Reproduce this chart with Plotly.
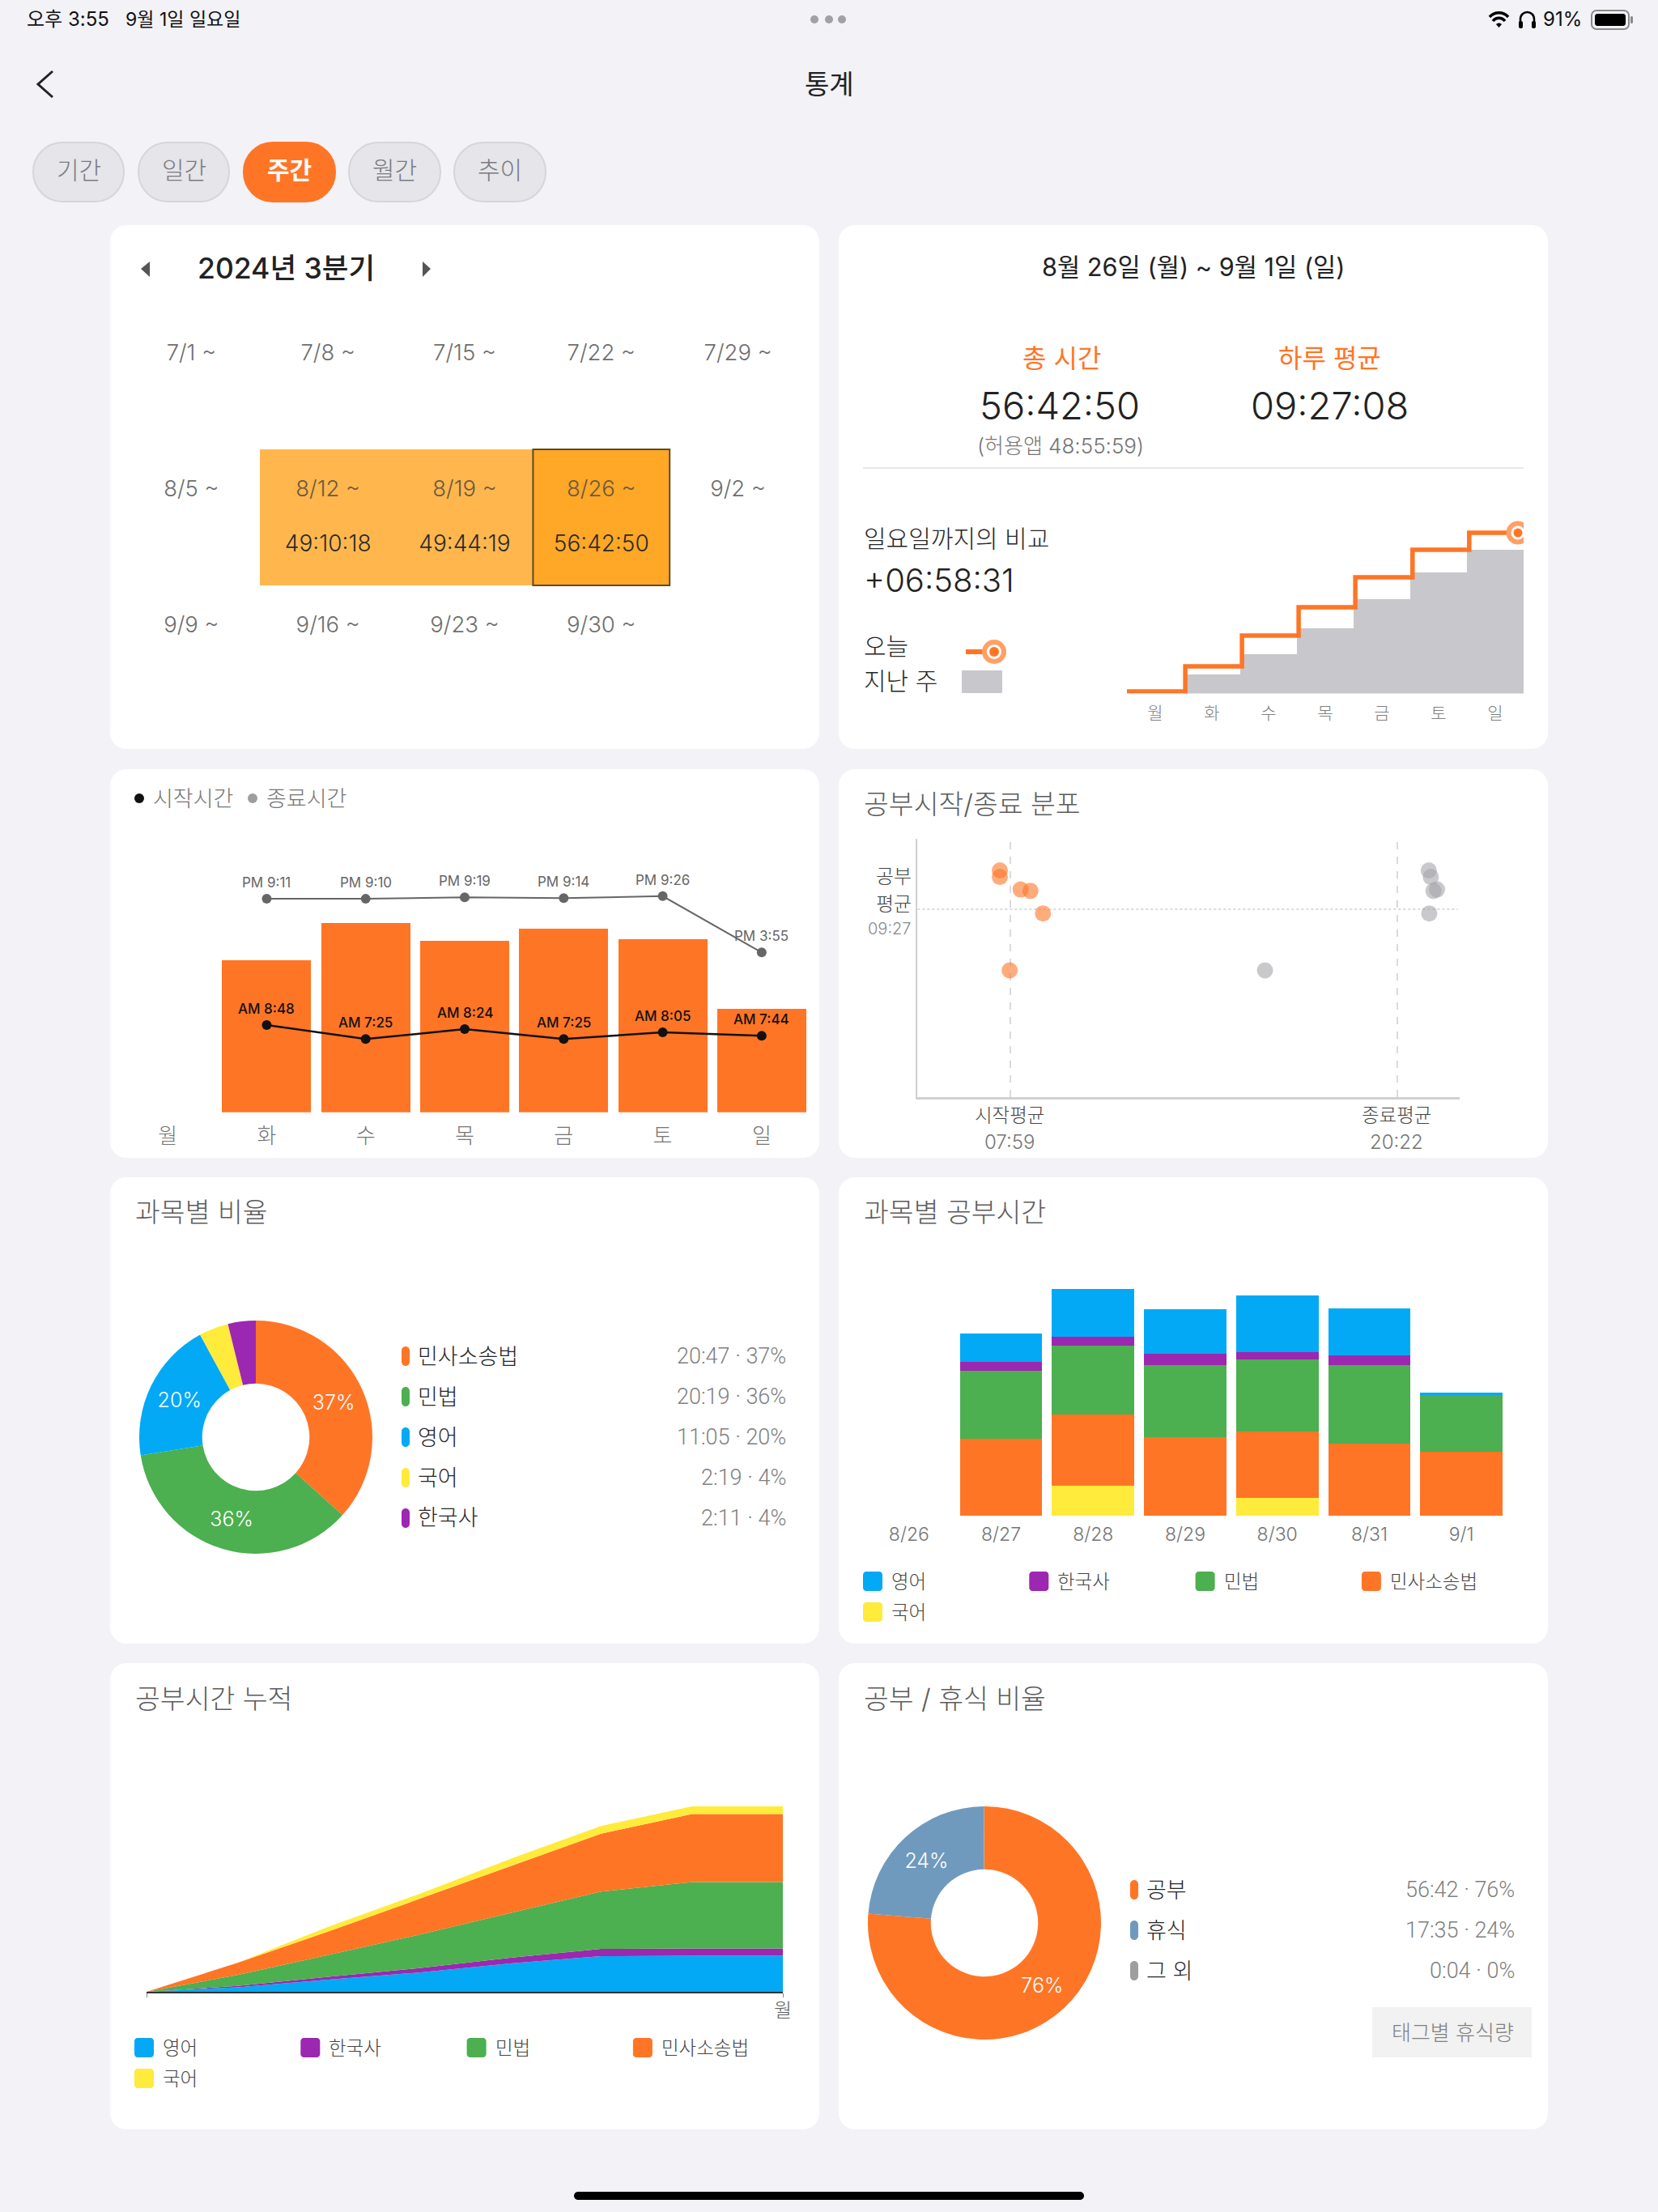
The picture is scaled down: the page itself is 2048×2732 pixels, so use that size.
import plotly.graph_objects as go

# ---------- data ----------
WEEK_LABELS = [["7/1 ~", "7/8 ~", "7/15 ~", "7/22 ~", "7/29 ~"],
               ["8/5 ~", "8/12 ~", "8/19 ~", "8/26 ~", "9/2 ~"],
               ["9/9 ~", "9/16 ~", "9/23 ~", "9/30 ~", ""]]
WEEK_HOURS = [[None, None, None, None, None],
              [None, 49.17, 49.74, 56.71, None],
              [None, None, None, None, None]]
WEEK_HOUR_TEXT = {(1, 1): "49:10:18", (1, 2): "49:44:19", (1, 3): "56:42:50"}

DAYS = ["월", "화", "수", "목", "금", "토", "일"]
THIS_WEEK = [0.7, 9.57, 20.4, 30.4, 41.0, 50.7, 56.7]
THIS_WEEK_EDGES = [-0.5, 0.53, 1.53, 2.53, 3.53, 4.54, 5.54]
TODAY_POS = 6.4
LAST_WEEK = [0, 6.7, 13.9, 23.0, 33.3, 42.7, 50.7]

STUDY_DAYS = ["화", "수", "목", "금", "토", "일"]
STUDY_HOURS = [0, 8.87, 11.03, 10.0, 10.7, 10.07, 6.01]
START_HOURS = [8.8, 7.417, 8.4, 7.417, 8.083, 7.733]
END_HOURS = [21.183, 21.167, 21.317, 21.233, 21.433, 15.917]
START_LABELS = ["AM 8:48", "AM 7:25", "AM 8:24", "AM 7:25", "AM 8:05", "AM 7:44"]
END_LABELS = ["PM 9:11", "PM 9:10", "PM 9:19", "PM 9:14", "PM 9:26", "PM 3:55"]
DURATIONS = [8.87, 11.03, 10.0, 10.7, 10.07, 6.01]
AVG_START_POS = 7.754
AVG_END_POS = 20.16
AVG_STUDY_POS = 9.08

SUBJECTS = ["민사소송법", "민법", "영어", "국어", "한국사"]
SUBJECT_MINUTES = [1247, 1219, 665, 139, 131]
SUBJECT_TEXT = ["37%", "36%", "20%", "", ""]
SUBJECT_VALUES = ["20:47 · 37%", "20:19 · 36%", "11:05 · 20%", "2:19 · 4%", "2:11 · 4%"]

DATES = ["8/26", "8/27", "8/28", "8/29", "8/30", "8/31", "9/1"]
KOREAN = [0, 0, 1.47, 0, 0.87, 0, 0]
CIVIL_PROC = [0, 3.73, 3.44, 3.81, 3.23, 3.51, 3.11]
CIVIL = [0, 3.33, 3.35, 3.53, 3.50, 3.81, 2.76]
HISTORY = [0, 0.40, 0.44, 0.52, 0.36, 0.49, 0]
ENGLISH = [0, 1.39, 2.34, 2.16, 2.76, 2.25, 0.13]

CUM_X = [0, 1, 2, 3, 4, 5, 6, 7]
CUM_ENGLISH = [0, 1.39, 3.73, 5.89, 8.65, 10.90, 11.03, 11.03]
CUM_HISTORY = [0, 0.40, 0.84, 1.36, 1.72, 2.21, 2.21, 2.21]
CUM_CIVIL = [0, 3.33, 6.68, 10.21, 13.71, 17.52, 20.28, 20.28]
CUM_PROC = [0, 3.73, 7.17, 10.98, 14.21, 17.72, 20.83, 20.83]
CUM_KOREAN = [0, 0, 1.47, 1.47, 2.34, 2.34, 2.34, 2.34]

REST_LABELS = ["공부", "휴식", "그 외"]
REST_MINUTES = [3402, 1055, 4]
REST_TEXT = ["76%", "24%", ""]
REST_VALUES = ["56:42 · 76%", "17:35 · 24%", "0:04 · 0%"]

# ---------- style ----------
W, H = 2048, 2732
FONT = "Inter, 'Noto Sans CJK KR', sans-serif"
VALUE_FONT = "Roboto, 'Noto Sans CJK KR', sans-serif"
LIGHT = 300
ORANGE, GREEN, BLUE, YELLOW, PURPLE = "#FF7526", "#4CAF50", "#03A9F4", "#FFEB3B", "#9C27B0"
SUBJECT_COLORS = [ORANGE, GREEN, BLUE, YELLOW, PURPLE]
REST_COLORS = [ORANGE, "#6F9ABD", "#9E9E9E"]
BG, GREYBAR = "#F2F2F7", "#C7C7CC"
TITLE_C, LABEL_C, MUTED_C = "#5C5C5C", "#262626", "#757575"

fx = lambda p: p / W
fy = lambda p: 1 - p / H
shapes, annos = [], []


def text(x, y, s, size, color=LABEL_C, anchor="left", weight=LIGHT, family=FONT):
    f = dict(size=size, color=color, family=family, weight=weight)
    annos.append(dict(x=fx(x), y=fy(y), xref="paper", yref="paper", text=s, showarrow=False,
                      xanchor=anchor, yanchor="middle", font=f, borderpad=0))


def P(cmds):
    out = []
    for c in cmds:
        out.append(c[0] + " ".join(
            f"{fx(c[i]):.6f},{fy(c[i + 1]):.6f}" for i in range(1, len(c), 2)))
    return " ".join(out)


def path(cmds, fill=None, line=None, lw=0, closed=False, layer="below"):
    d = P(cmds) + (" Z" if closed else "")
    shapes.append(dict(type="path", xref="paper", yref="paper", path=d, layer=layer,
                       fillcolor=fill or "rgba(0,0,0,0)",
                       line=dict(color=line or "rgba(0,0,0,0)", width=lw)))


def rrect(x0, y0, x1, y1, r, fill, line=None, lw=0):
    k = r * 0.45
    path([("M", x0 + r, y0), ("L", x1 - r, y0),
          ("C", x1 - k, y0, x1, y0 + k, x1, y0 + r), ("L", x1, y1 - r),
          ("C", x1, y1 - k, x1 - k, y1, x1 - r, y1), ("L", x0 + r, y1),
          ("C", x0 + k, y1, x0, y1 - k, x0, y1 - r), ("L", x0, y0 + r),
          ("C", x0, y0 + k, x0 + k, y0, x0 + r, y0)], fill=fill, line=line, lw=lw, closed=True)


def circle(cx, cy, r, fill):
    shapes.append(dict(type="circle", xref="paper", yref="paper", layer="below",
                       x0=fx(cx - r), x1=fx(cx + r), y0=fy(cy + r), y1=fy(cy - r),
                       fillcolor=fill, line=dict(width=0)))


def xdom(a, b):
    return [fx(a), fx(b)]


def ydom(top, bottom):
    return [fy(bottom), fy(top)]


# ---------- chrome ----------
for (a, b) in [(136, 1012), (1036, 1912)]:
    for (t, u) in [(278, 925), (950, 1430), (1454, 2030), (2054, 2630)]:
        rrect(a, t, b, u, 20, "#FFFFFF")

text(32, 24, "오후 3:55", 24, "#111111", weight=400)
text(154, 24, "9월 1일 일요일", 23, "#111111", weight=400)
for cx in (1006, 1024, 1040):
    circle(cx, 24, 5, "#A0A0A5")
path([("M", 1840, 21), ("C", 1846, 14, 1857, 14, 1863, 21)], line="#000000", lw=3.5)
path([("M", 1844, 26), ("C", 1848, 21, 1855, 21, 1859, 26)], line="#000000", lw=3.5)
path([("M", 1848, 30), ("L", 1851.5, 34), ("L", 1855, 30), ("C", 1853, 28, 1850, 28, 1848, 30)],
     fill="#000000", closed=True)
path([("M", 1878, 33), ("L", 1878, 24), ("C", 1878, 12, 1895, 12, 1895, 24), ("L", 1895, 33)],
     line="#000000", lw=2.5)
rrect(1876, 26, 1881, 35, 2, "#000000")
rrect(1892, 26, 1897, 35, 2, "#000000")
text(1905, 24, "91%", 24, "#111111", weight=400)
rrect(1966, 13, 2012, 36, 6, "rgba(0,0,0,0)", "#8A8A8E", 2)
rrect(1970, 17, 2008, 32, 3, "#000000")
rrect(2014, 20, 2017, 29, 1.5, "#8A8A8E")

path([("M", 65, 88), ("L", 47, 104), ("L", 65, 120)], line="#222222", lw=3)
text(1024, 104, "통계", 33, "#222222", "center", 400)

for (a, b, s, on) in [(41, 153, "기간", 0), (171, 283, "일간", 0), (301, 414, "주간", 1),
                      (431, 544, "월간", 0), (561, 674, "추이", 0)]:
    rrect(a, 176, b, 249, 36, ORANGE if on else "#E5E5EA", ORANGE if on else "#D6D6DA", 2)
    text((a + b) / 2, 210, s, 30, "#FFFFFF" if on else "#7A7A80", "center", 700 if on else LIGHT)

# card 1
text(353, 331, "2024년 3분기", 35.5, "#222222", "center", 500)
path([("M", 185, 323), ("L", 174, 332), ("L", 185, 342)], fill="#555555", closed=True)
path([("M", 522, 323), ("L", 532, 332), ("L", 522, 342)], fill="#555555", closed=True)

# card 2
text(1474, 329, "8월 26일 (월) ~ 9월 1일 (일)", 30.7, "#222222", "center", 400)
text(1311, 442, "총 시간", 32, ORANGE, "center", 400)
text(1642, 442, "하루 평균", 32, ORANGE, "center", 400)
text(1309, 500, "56:42:50", 47, "#222222", "center")
text(1642, 500, "09:27:08", 47, "#222222", "center")
text(1310, 551, "(허용앱 48:55:59)", 26, MUTED_C, "center")
path([("M", 1066, 578), ("L", 1882, 578)], line="#E8E8EA", lw=2)
text(1066, 665, "일요일까지의 비교", 30, LABEL_C)
text(1066, 716, "+06:58:31", 40, "#222222")
text(1066, 798, "오늘", 30, LABEL_C)
text(1066, 841, "지난 주", 30, LABEL_C)
path([("M", 1193, 805), ("L", 1218, 805)], line=ORANGE, lw=6)
circle(1228, 805, 15, "#FFA066")
circle(1228, 805, 9, "#FFFFFF")
circle(1228, 805, 6, ORANGE)
shapes.append(dict(type="rect", xref="paper", yref="paper", layer="below", x0=fx(1188), x1=fx(1238),
                   y0=fy(856), y1=fy(828), fillcolor=GREYBAR, line=dict(width=0)))

# card 3
circle(172, 986, 6, "#111111")
text(188, 986, "시작시간", 27, MUTED_C)
circle(312, 986, 6, "#9E9E9E")
text(328, 986, "종료시간", 27, MUTED_C)

# card 4
text(1066, 993, "공부시작/종료 분포", 33.5, TITLE_C)
text(1127, 1082, "공부", 24, "#444444", "right")
text(1127, 1116, "평균", 24, "#444444", "right")
text(1127, 1147, "09:27", 20, "#8A8A8A", "right")
text(1247, 1377, "시작평균", 23.5, "#444444", "center")
text(1247, 1410, "07:59", 24, MUTED_C, "center")
text(1725, 1377, "종료평균", 23.5, "#444444", "center")
text(1725, 1410, "20:22", 24, MUTED_C, "center")

# card 5
text(166, 1497, "과목별 비율", 33.5, TITLE_C)
for i, (n, v, c) in enumerate(zip(SUBJECTS, SUBJECT_VALUES, SUBJECT_COLORS)):
    y = 1675 + 50 * i
    rrect(496, y - 12, 506, y + 12, 5, c)
    text(515, y, n, 27, LABEL_C)
    text(972, y, v, 27, "#808080", "right", family=VALUE_FONT)

# card 6 / 7 legends
text(1066, 1497, "과목별 공부시간", 33.5, TITLE_C)
text(166, 2098, "공부시간 누적", 33.5, TITLE_C)
LEG = [("영어", BLUE), ("한국사", PURPLE), ("민법", GREEN), ("민사소송법", ORANGE), ("국어", YELLOW)]
for (ox, y1, y2) in [(1066, 1953, 1991), (166, 2529, 2567)]:
    for i, (n, c) in enumerate(LEG):
        x = ox + 205.3 * (i % 4)
        y = y2 if i == 4 else y1
        rrect(x, y - 12, x + 24, y + 12, 4, c)
        text(x + 34, y, n, 23.5, "#444444")

# card 8
text(1066, 2098, "공부 / 휴식 비율", 33.5, TITLE_C)
for i, (n, v, c) in enumerate(zip(REST_LABELS, REST_VALUES, REST_COLORS)):
    y = 2334 + 50 * i
    rrect(1396, y - 12, 1406, y + 12, 5, c)
    text(1415, y, n, 27, LABEL_C)
    text(1872, y, v, 27, "#808080", "right", family=VALUE_FONT)
shapes.append(dict(type="rect", xref="paper", yref="paper", layer="below", x0=fx(1695), x1=fx(1892),
                   y0=fy(2541), y1=fy(2479), fillcolor="#F2F2F2", line=dict(width=0)))
text(1794, 2510, "태그별 휴식량", 26, "#808080", "center")

rrect(709, 2707, 1339, 2717, 5, "#000000")

# ---------- charts ----------
fig = go.Figure()
hidden = dict(visible=False, fixedrange=True, automargin=False)
axes = {}

# calendar
axes["xaxis"] = dict(hidden, domain=xdom(152, 996), range=[-0.5, 4.5], anchor="y")
axes["yaxis"] = dict(hidden, domain=ydom(387, 891), range=[2.5, -0.5], anchor="x")
fig.add_trace(go.Heatmap(z=WEEK_HOURS, x=[0, 1, 2, 3, 4], y=[0, 1, 2], zmin=49, zmax=57,
                         colorscale=[[0, "#FFB74D"], [0.5, "#FFB74D"], [0.5, "#FFA726"], [1, "#FFA726"]],
                         showscale=False, hoverinfo="skip", xaxis="x", yaxis="y"))
wx, wy, wt, wc, ws = [], [], [], [], []
for r, row in enumerate(WEEK_LABELS):
    for c, lab in enumerate(row):
        wx.append(c)
        wy.append(r - 0.195)
        wt.append(lab)
        wc.append("#6A5A40" if (r, c) in WEEK_HOUR_TEXT else "#6E6E6E")
        ws.append(27.5)
for (r, c), lab in WEEK_HOUR_TEXT.items():
    wx.append(c)
    wy.append(r + 0.21)
    wt.append(lab)
    wc.append("#2A2A2A")
    ws.append(28)
fig.add_trace(go.Scatter(x=wx, y=wy, text=wt, mode="text", textposition="middle center",
                         textfont=dict(size=ws, color=wc, family=FONT, weight=LIGHT), hoverinfo="skip",
                         xaxis="x", yaxis="y"))
shapes.append(dict(type="rect", xref="x", yref="y", x0=2.5, x1=3.5, y0=0.5, y1=1.5, layer="above",
                   line=dict(color="#5E4A24", width=2)))

# weekly comparison
axes["xaxis2"] = dict(domain=xdom(1392, 1882), range=[-0.5, 6.5], anchor="y2", tickvals=list(range(7)),
                      ticktext=DAYS, tickfont=dict(size=21, color="#808080", family=FONT, weight=LIGHT),
                      ticks="outside", ticklen=5, tickcolor="rgba(0,0,0,0)", showgrid=False, zeroline=False,
                      showline=False, fixedrange=True, tickangle=0, automargin=False)
axes["yaxis2"] = dict(hidden, domain=ydom(640, 856.5), range=[0, 61.86], anchor="x2")
fig.add_trace(go.Bar(x=list(range(7)), y=LAST_WEEK, width=1, marker=dict(color=GREYBAR, line=dict(width=0)),
                     hoverinfo="skip", xaxis="x2", yaxis="y2"))
fig.add_trace(go.Scatter(x=THIS_WEEK_EDGES + [TODAY_POS], y=THIS_WEEK + [THIS_WEEK[-1]], mode="lines",
                         line=dict(color=ORANGE, width=5.5, shape="hv"), hoverinfo="skip",
                         xaxis="x2", yaxis="y2"))
for s, c in [(29, "#FFA066"), (17, "#FFFFFF"), (11, ORANGE)]:
    fig.add_trace(go.Scatter(x=[TODAY_POS], y=[THIS_WEEK[-1]], mode="markers",
                             marker=dict(size=s, color=c, line=dict(width=0)), hoverinfo="skip",
                             xaxis="x2", yaxis="y2"))

# start / end times
axes["xaxis3"] = dict(domain=xdom(146, 1002), type="category", categoryorder="array", categoryarray=DAYS,
                      range=[-0.5, 6.5], anchor="y3", tickfont=dict(size=26, color="#757575", family=FONT, weight=LIGHT),
                      ticks="outside", ticklen=6, tickcolor="rgba(0,0,0,0)", showgrid=False, zeroline=False,
                      showline=False, fixedrange=True, tickangle=0, automargin=False)
axes["yaxis3"] = dict(hidden, domain=ydom(1100, 1373.7), range=[0, 12.91], anchor="x3")
axes["yaxis4"] = dict(hidden, domain=ydom(1102, 1375.7), range=[0.246, 21.97], anchor="x3", overlaying="y3")
fig.add_trace(go.Bar(x=DAYS, y=STUDY_HOURS, width=0.9, marker=dict(color=ORANGE, line=dict(width=0)),
                     hoverinfo="skip", xaxis="x3", yaxis="y3"))
fig.add_trace(go.Scatter(x=STUDY_DAYS, y=END_HOURS, mode="lines+markers", cliponaxis=False,
                         line=dict(color="#666666", width=2), marker=dict(size=12, color="#666666"),
                         hoverinfo="skip", xaxis="x3", yaxis="y4"))
fig.add_trace(go.Scatter(x=STUDY_DAYS, y=START_HOURS, mode="lines+markers", cliponaxis=False,
                         line=dict(color="#111111", width=2.5), marker=dict(size=12, color="#111111"),
                         hoverinfo="skip", xaxis="x3", yaxis="y4"))
for xs, ys, labs, col, wt_ in [(STUDY_DAYS, END_HOURS, END_LABELS, "#666666", 400),
                               (STUDY_DAYS, START_HOURS, START_LABELS, "#111111", 500)]:
    for a, b, t in zip(xs, ys, labs):
        annos.append(dict(x=a, y=b, xref="x3", yref="y4", text=t, showarrow=False, yshift=20,
                          xanchor="center", yanchor="middle",
                          font=dict(size=17, color=col, family=FONT, weight=wt_)))

# distribution
axes["xaxis5"] = dict(domain=xdom(1133.3, 1803), range=[4.778, 22.158], anchor="y5", showticklabels=False,
                      ticks="", showgrid=False, zeroline=False, showline=True, linecolor="#CFCFD4", linewidth=3,
                      fixedrange=True, automargin=False)
axes["yaxis5"] = dict(domain=ydom(1036, 1355), range=[-0.35, 12.615], anchor="x5", showticklabels=False,
                      ticks="", showgrid=False, zeroline=False, showline=True, linecolor="#CFCFD4", linewidth=1.5,
                      fixedrange=True, automargin=False)
for xs, ys, d in [([AVG_START_POS] * 2, [-0.35, 12.615], "dash"), ([AVG_END_POS] * 2, [-0.35, 12.615], "dash"),
                  ([4.778, 22.1], [AVG_STUDY_POS] * 2, "dot")]:
    fig.add_trace(go.Scatter(x=xs, y=ys, mode="lines", line=dict(color="#CFCFCF", width=1.5, dash=d),
                             hoverinfo="skip", xaxis="x5", yaxis="y5"))
fig.add_trace(go.Scatter(x=START_HOURS, y=DURATIONS, mode="markers",
                         marker=dict(size=20, color="rgba(255,117,38,0.6)", line=dict(width=0)),
                         hoverinfo="skip", xaxis="x5", yaxis="y5"))
fig.add_trace(go.Scatter(x=END_HOURS, y=DURATIONS, mode="markers",
                         marker=dict(size=20, color="rgba(165,165,170,0.6)", line=dict(width=0)),
                         hoverinfo="skip", xaxis="x5", yaxis="y5"))

# subject donut
fig.add_trace(go.Pie(values=SUBJECT_MINUTES, labels=SUBJECTS, text=SUBJECT_TEXT, textinfo="text",
                     textposition="inside", insidetextorientation="horizontal",
                     textfont=dict(size=25, color="#FFFFFF", family=FONT, weight=LIGHT), hole=0.46, sort=False,
                     direction="clockwise", rotation=0, marker=dict(colors=SUBJECT_COLORS, line=dict(width=0)),
                     domain=dict(x=xdom(172, 460), y=ydom(1631, 1919)), showlegend=False, hoverinfo="skip"))

# stacked bars
axes["xaxis6"] = dict(domain=xdom(1066, 1862), type="category", categoryorder="array", categoryarray=DATES,
                      range=[-0.5, 6.5], anchor="y6", tickfont=dict(size=23, color="#757575", family=FONT, weight=LIGHT),
                      ticks="outside", ticklen=2, tickcolor="rgba(0,0,0,0)", showgrid=False, zeroline=False,
                      showline=False, fixedrange=True, tickangle=0, automargin=False)
axes["yaxis6"] = dict(hidden, domain=ydom(1560, 1872), range=[0, 12.28], anchor="x6")
for vals, col in [(KOREAN, YELLOW), (CIVIL_PROC, ORANGE), (CIVIL, GREEN), (HISTORY, PURPLE), (ENGLISH, BLUE)]:
    fig.add_trace(go.Bar(x=DATES, y=vals, width=0.894, marker=dict(color=col, line=dict(width=0)),
                         hoverinfo="skip", xaxis="x6", yaxis="y6"))

# cumulative
axes["xaxis7"] = dict(domain=xdom(181, 967), range=[0, 7], anchor="y7", tickvals=[0, 7], ticktext=["", "월"],
                      tickfont=dict(size=24, color="#5C5C5C", family=FONT, weight=LIGHT), ticks="outside", ticklen=5,
                      tickcolor="#888888", showgrid=False, zeroline=False, showline=True, linecolor="#333333",
                      linewidth=1.5, fixedrange=True, tickangle=0, automargin=False, ticklabelstandoff=-5)
axes["yaxis7"] = dict(domain=ydom(2179.7, 2460), range=[0, 69.4], anchor="x7", tickvals=[69.4],
                      showticklabels=False, ticks="", showgrid=True, gridcolor="#DDDDDD", gridwidth=2,
                      zeroline=False, showline=False, fixedrange=True, automargin=False)
for vals, col in [(CUM_ENGLISH, BLUE), (CUM_HISTORY, PURPLE), (CUM_CIVIL, GREEN), (CUM_PROC, ORANGE),
                  (CUM_KOREAN, YELLOW)]:
    fig.add_trace(go.Scatter(x=CUM_X, y=vals, mode="lines", stackgroup="one", line=dict(width=0, color=col),
                             fillcolor=col, hoverinfo="skip", xaxis="x7", yaxis="y7"))

# rest donut
fig.add_trace(go.Pie(values=REST_MINUTES, labels=REST_LABELS, text=REST_TEXT, textinfo="text",
                     textposition="inside", insidetextorientation="horizontal",
                     textfont=dict(size=25, color="#FFFFFF", family=FONT, weight=LIGHT), hole=0.46, sort=False,
                     direction="clockwise", rotation=0, marker=dict(colors=REST_COLORS, line=dict(width=0)),
                     domain=dict(x=xdom(1072, 1360), y=ydom(2231, 2519)), showlegend=False, hoverinfo="skip"))

fig.update_layout(width=W, height=H, margin=dict(l=0, r=0, t=0, b=0, pad=0), paper_bgcolor=BG,
                  plot_bgcolor="rgba(0,0,0,0)", showlegend=False, barmode="stack", bargap=0,
                  font=dict(family=FONT), shapes=shapes, annotations=annos, **axes)

fig.write_html("out.html", config=dict(displayModeBar=False),
               post_script="document.body.style.margin='0';document.body.style.overflow='hidden';"
                           "document.body.style.background='#F2F2F7';")
